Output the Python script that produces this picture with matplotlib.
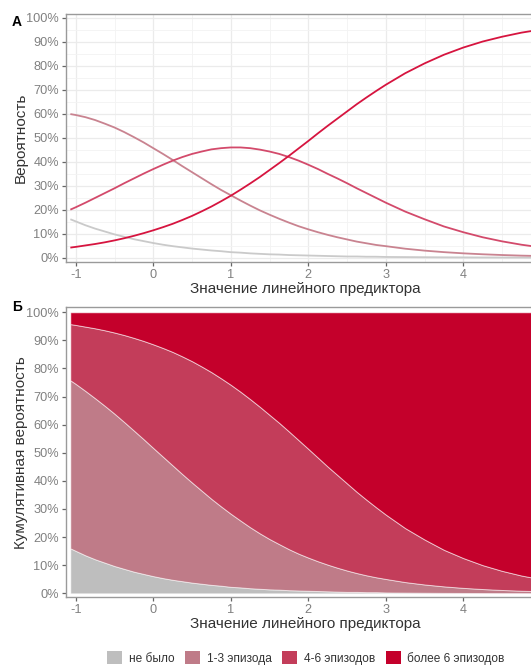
import numpy as np
import matplotlib
matplotlib.use("Agg")
import matplotlib.pyplot as plt
from matplotlib.patches import Patch
from matplotlib.ticker import MultipleLocator, PercentFormatter

plt.rcParams['font.family'] = ['Liberation Sans', 'DejaVu Sans']
plt.rcParams['axes.unicode_minus'] = False

# Linear predictor grid
x = np.array([-1.07, -1.0, -0.875, -0.75, -0.625, -0.5, -0.375, -0.25, -0.125, 0.0,
              0.125, 0.25, 0.375, 0.5, 0.625, 0.75, 0.875, 1.0, 1.125, 1.25,
              1.375, 1.5, 1.625, 1.75, 1.875, 2.0, 2.125, 2.25, 2.375, 2.5,
              2.625, 2.75, 2.875, 3.0, 3.25, 3.5, 3.75, 4.0, 4.25, 4.5, 4.75, 5.0])

# Category probabilities
p_none = np.array([.160, .151, .135, .121, .109, .097, .087, .077, .069, .061,
                   .054, .048, .043, .038, .034, .030, .027, .023, .021, .018,
                   .016, .014, .013, .011, .010, .009, .008, .007, .006, .005,
                   .005, .004, .004, .003, .0025, .0020, .0015, .0012, .0009, .0007, .0006, .0004])
p_1_3 = np.array([.598, .594, .585, .573, .558, .542, .523, .502, .480, .456,
                  .432, .407, .381, .356, .331, .306, .282, .260, .238, .217,
                  .197, .179, .162, .146, .131, .118, .106, .095, .085, .076,
                  .067, .060, .053, .048, .0374, .0294, .0231, .0181, .0142, .0111, .0086, .0068])
p_4_6 = np.array([.200, .210, .229, .249, .269, .289, .310, .330, .350, .369,
                  .387, .404, .419, .432, .442, .451, .456, .459, .459, .456,
                  .450, .442, .432, .419, .404, .387, .369, .349, .330, .310,
                  .289, .269, .249, .229, .192, .160, .130, .106, .085, .068, .054, .043])
p_6plus = np.array([.042, .045, .051, .057, .064, .072, .081, .091, .102, .114,
                    .127, .141, .157, .174, .193, .213, .235, .258, .283, .309,
                    .336, .365, .394, .424, .455, .486, .518, .549, .579, .609,
                    .639, .667, .694, .720, .768, .809, .845, .875, .900, .920, .937, .950])

categories = ["не было", "1-3 эпизода", "4-6 эпизодов", "более 6 эпизодов"]
series = [p_none, p_1_3, p_4_6, p_6plus]
x_ticks = [-1, 0, 1, 2, 3, 4]

fill_colors = ["#BEBEBE", "#BF7B88", "#C33D5A", "#C4002B"]
line_colors = ["#CACACA", "#C98390", "#D34A6B", "#D6143F"]

W, H = 531, 666
fig = plt.figure(figsize=(W / 100, H / 100), dpi=100)

def px_axes(left, top, right, bottom):
    return fig.add_axes([left / W, 1 - bottom / H, (right - left) / W, (bottom - top) / H])

axA = px_axes(65.7, 14, 545.5, 261.7)
axB = px_axes(65.7, 307.3, 545.5, 597)

tick_col = "#808080"
for ax in (axA, axB):
    ax.set_xlim(-1.13, 5.06)
    ax.yaxis.set_major_locator(MultipleLocator(0.1))
    ax.yaxis.set_major_formatter(PercentFormatter(1.0, decimals=0))
    ax.set_xticks(x_ticks)
    ax.tick_params(axis='both', colors="#666666", labelcolor=tick_col, labelsize=9.2,
                   length=3, width=0.9, pad=2)
    for s in ax.spines.values():
        s.set_color("#9A9A9A")
        s.set_linewidth(1.0)
    ax.set_xlabel("Значение линейного предиктора", fontsize=11, color="#333333", labelpad=1)

# Panel A: probabilities per category
axA.set_ylim(-0.0167, 1.0146)
axA.xaxis.set_minor_locator(MultipleLocator(0.5))
axA.yaxis.set_minor_locator(MultipleLocator(0.05))
axA.grid(which='major', color="#EBEBEB", linewidth=0.9)
axA.grid(which='minor', color="#F3F3F3", linewidth=0.6)
axA.tick_params(which='minor', length=0)
axA.set_axisbelow(True)
for vals, col in zip(series, line_colors):
    axA.plot(x, vals, color=col, linewidth=1.3, solid_capstyle='butt')
axA.set_ylabel("Вероятность", fontsize=11, color="#333333")
axA.yaxis.set_label_coords((28 - 65.7) / 479.8, 0.5)

# Panel B: cumulative stacked areas (shares rescaled so each column sums to 1)
total = np.sum(series, axis=0)
shares = [s / total for s in series]
axB.set_ylim(-0.0132, 1.0178)
axB.stackplot(x, *shares, colors=fill_colors, edgecolor=(1, 1, 1, 0.55), linewidth=0.7)
axB.set_ylabel("Кумулятивная вероятность", fontsize=11, color="#333333")
axB.yaxis.set_label_coords((28 - 65.7) / 479.8, 0.5)

fig.text(12 / W, 1 - 22 / H, "А", fontsize=10, fontweight='bold', ha='left', va='center')
fig.text(12 / W, 1 - 307 / H, "Б", fontsize=10, fontweight='bold', ha='left', va='center')

handles = [Patch(facecolor=c, edgecolor='none') for c in fill_colors]
fig.legend(handles, categories, loc='center', bbox_to_anchor=(306 / W, 1 - 658 / H),
           ncol=4, frameon=False, fontsize=8.6, handlelength=1.25, handleheight=1.3,
           handletextpad=0.55, columnspacing=0.9, labelcolor="#333333")

fig.savefig("out.png", dpi=100)
